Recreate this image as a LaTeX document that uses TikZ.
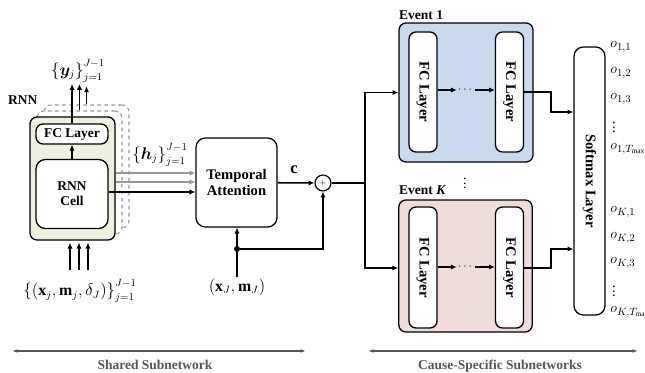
\documentclass[tikz,border=0pt]{standalone}
\usepackage{fontspec}
\setmainfont{Liberation Serif}
\usepackage{amsmath, amssymb, bm}
\usetikzlibrary{arrows.meta, positioning, calc}
\definecolor{rnngreen}{RGB}{236, 240, 222}
\definecolor{eventblue}{RGB}{201, 217, 238}
\definecolor{eventpink}{RGB}{240, 220, 218}
\definecolor{hgray}{RGB}{150, 150, 150}
\definecolor{subgray}{RGB}{85, 85, 85}

\begin{document}
\begin{tikzpicture}[x=0.03cm, y=-0.03cm,
  >={Latex[length=5pt, width=4.5pt]},
  box/.style={draw, line width=1.1pt, rounded corners=6pt, fill=white, align=center, inner sep=0pt, font=\fontsize{11.5}{13}\selectfont\bfseries},
  backbox/.style={draw=hgray, dashed, line width=0.9pt, rounded corners=6pt, fill=white, minimum width=2.55cm, minimum height=3.69cm},
  flow/.style={->, line width=1.3pt},
  fcbox/.style={box, rotate=-90, minimum width=3.6cm, minimum height=0.84cm, font=\fontsize{12.5}{14}\selectfont\bfseries},
  mathlabel/.style={inner sep=1pt, font=\fontsize{13.5}{15}\selectfont},
  olabel/.style={anchor=west, inner sep=1pt, font=\fontsize{12.5}{14}\selectfont},
  span/.style={{Stealth[length=4pt]}-{Stealth[length=4pt]}, draw=subgray, line width=0.9pt},
  spanlabel/.style={text=subgray, font=\fontsize{11.5}{13}\selectfont\bfseries}
]
  \useasboundingbox (0,0) rectangle (645,373);

  % RNN (shared)
  \node[backbox] (rnnback2) at (86.5, 166.5) {};
  \node[backbox] (rnnback1) at (79.5, 172.5) {};
  \node[box, fill=rnngreen, minimum width=2.55cm, minimum height=3.69cm] (rnn) at (72.5, 178.5) {};
  \node[font=\fontsize{11.5}{13}\selectfont\bfseries, anchor=west, inner sep=0pt] (rnnlab) at (8, 100) {RNN};
  \node[box, minimum width=2.16cm, minimum height=0.6cm] (rnnfc) at (72, 134) {FC Layer};
  \node[box, rounded corners=8pt, minimum width=2.16cm, minimum height=2.07cm] (rnncell) at (72, 194) {RNN\\Cell};
  \draw[flow] (rnncell) -- (rnnfc);

  \node[mathlabel, anchor=south] (ylab) at (78, 84) {$\left\{\bm{y}_j\right\}_{j=1}^{J-1}$};
  \draw[flow] (rnnfc.north) -- (rnnfc.north |- ylab.south);
  \draw[flow] (rnnback1.north) -- (rnnback1.north |- ylab.south);
  \draw[flow] (rnnback2.north) -- ([yshift=-2pt]rnnback2.north |- ylab.south);

  \node[mathlabel, anchor=north] (xlab) at (80, 278) {$\left\{(\mathbf{x}_j, \mathbf{m}_j, \delta_J)\right\}_{j=1}^{J-1}$};
  \foreach \dx in {-10, -1, 8}
    \draw[flow] ($(xlab.north)+(\dx,-8)$) -- ($(rnn.south -| xlab.north)+(\dx,2)$);

  % Temporal attention
  \node[box, rounded corners=8pt, minimum width=2.43cm, minimum height=2.67cm, font=\fontsize{12.5}{14}\selectfont\bfseries] (attn) at (236.5, 182.5) {Temporal\\Attention};
  \node[mathlabel] (hlab) at (160, 155) {$\left\{\bm{h}_j\right\}_{j=1}^{J-1}$};
  \draw[flow, hgray] (rnn.east |- 0,173) -- (attn.west |- 0,173);
  \draw[flow, hgray] (rnn.east |- 0,182) -- (attn.west |- 0,182);
  \draw[flow] (rnncell.east |- 0,192) -- (attn.west |- 0,192);

  \node[draw, circle, line width=1pt, minimum size=0.48cm, inner sep=0pt, font=\scriptsize] (plus) at (323, 183) {$+$};
  \draw[flow] (attn) -- (plus);
  \node[font=\fontsize{14}{15}\selectfont] (clab) at (294, 170) {$\mathbf{c}$};

  \node[mathlabel] (xJlab) at (237, 287) {$(\mathbf{x}_J, \mathbf{m}_J)$};
  \coordinate (tap) at (237, 249);
  \draw[line width=1.3pt] (xJlab.north) -- (tap);
  \draw[flow] (tap) -- (tap |- attn.south);
  \draw[flow] (tap) -| (plus.south);
  \fill (tap) circle (3);

  % Event 1
  \node[box, fill=eventblue, minimum width=4.02cm, minimum height=4.17cm] (ev1) at (466, 92.5) {};
  \node[font=\fontsize{11.5}{13}\selectfont\bfseries, anchor=west, inner sep=0pt] (ev1lab) at (399, 15) {Event 1};
  \node[fcbox] (fcA1) at (423, 92) {FC Layer};
  \node[fcbox] (fcB1) at (509.5, 92) {FC Layer};
  \node[inner sep=1pt] (dots1) at (466, 90) {$\cdots$};
  \draw[flow] (fcA1.north |- dots1) -- (dots1);
  \draw[flow] (dots1) -- (fcB1.south |- dots1);

  % Event K
  \node[box, fill=eventpink, minimum width=4.0cm, minimum height=3.96cm] (evK) at (465.5, 266) {};
  \node[font=\fontsize{11.5}{13}\selectfont\bfseries, anchor=west, inner sep=0pt] (evKlab) at (399, 190) {Event \textit{K}};
  \node[fcbox, minimum width=3.63cm] (fcAK) at (423, 267.5) {FC Layer};
  \node[fcbox, minimum width=3.63cm] (fcBK) at (509.5, 267.5) {FC Layer};
  \node[inner sep=1pt] (dotsK) at (466, 267) {$\cdots$};
  \draw[flow] (fcAK.north |- dotsK) -- (dotsK);
  \draw[flow] (dotsK) -- (fcBK.south |- dotsK);

  \node[inner sep=0pt, font=\fontsize{12}{14}\selectfont] (evdots) at (465, 180) {$\vdots$};

  % Branch to events
  \coordinate (split) at (365, 183);
  \draw[line width=1.3pt] (plus) -- (split);
  \draw[flow] (split) |- (ev1);
  \draw[flow] (split) |- (evK.west |- 0,268);

  % Softmax
  \node[box, rounded corners=8pt, rotate=-90, minimum width=8.04cm, minimum height=0.93cm, font=\fontsize{12.5}{14}\selectfont\bfseries] (softmax) at (589.5, 181) {Softmax Layer};
  \draw[flow] (fcB1.north) -- ++(27,0) |- (softmax.south |- 0,112);
  \draw[flow] (fcBK.north |- 0,268) -- ++(27,0) |- (softmax.south |- 0,249);

  \node[olabel] (o11) at (609, 47) {$o_{1,1}$};
  \node[olabel] (o12) at (609, 73) {$o_{1,2}$};
  \node[olabel] (o13) at (609, 99) {$o_{1,3}$};
  \node[olabel, inner sep=0pt] (o1d) at (612, 124) {$\vdots$};
  \node[olabel] (o1T) at (609, 149) {$o_{1,T_{\max}}$};
  \node[olabel] (oK1) at (609, 212) {$o_{K,1}$};
  \node[olabel] (oK2) at (609, 238) {$o_{K,2}$};
  \node[olabel] (oK3) at (609, 263) {$o_{K,3}$};
  \node[olabel, inner sep=0pt] (oKd) at (612, 288) {$\vdots$};
  \node[olabel] (oKT) at (609, 312) {$o_{K,T_{\max}}$};

  % Subnetwork spans
  \coordinate (sharedL) at (13, 351);
  \coordinate (sharedR) at (305, 351);
  \coordinate (causeL) at (369, 351);
  \coordinate (causeR) at (637, 351);
  \draw[span] (sharedL) -- (sharedR);
  \draw[span] (causeL) -- (causeR);
  \node[spanlabel] (sharedlab) at (155, 365) {Shared Subnetwork};
  \node[spanlabel] (causelab) at (500, 366) {Cause-Specific Subnetworks};
\end{tikzpicture}
\end{document}
